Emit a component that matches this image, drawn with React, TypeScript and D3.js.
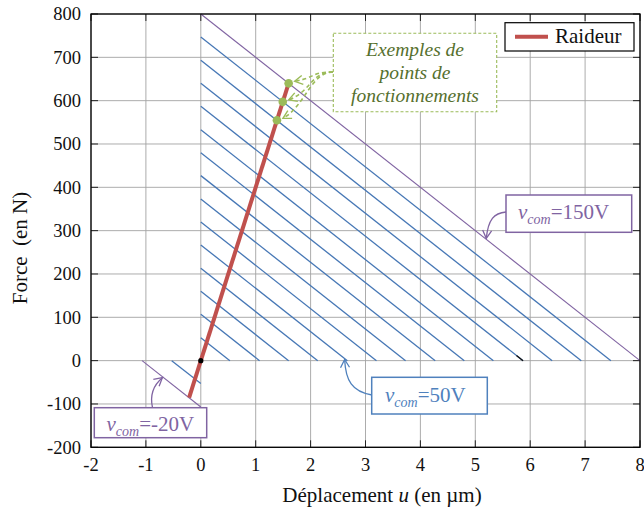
import React from 'react';
import * as d3 from 'd3';

// ---- data ----
const xTicks = [-2, -1, 0, 1, 2, 3, 4, 5, 6, 7, 8];
const yTicks = [-200, -100, 0, 100, 200, 300, 400, 500, 600, 700, 800];
const xTickLabels = ['-2', '-1', '0', '1', '2', '3', '4', '5', '6', '7', '8'];
const yTickLabels = ['-200', '-100', '0', '100', '200', '300', '400', '500', '600', '700', '800'];

// control voltages (V) and the blocked force (N) of each actuator characteristic
const voltages = [-20, -10, 0, 10, 20, 30, 40, 50, 60, 70, 80, 90, 100, 110, 120, 130, 140, 150];
const blockedForces = [-107, -53, 0, 53, 107, 160, 213, 267, 320, 373, 427, 480, 533, 587, 640, 693, 747, 800];
const actuatorStiffness = 100; // N per µm (slope of each characteristic)

// "Raideur" load line
const raideurU = [-0.213, 1.6];
const raideurF = [-85.3, 640];

// operating points (intersections)
const operatingU = [1.387, 1.493, 1.6];
const operatingF = [554.7, 597.3, 640];

const PURPLE = '#8064a2';
const BLUE_BOX = '#4f81bd';
const BLUE_LINE = '#4677b5';
const RED = '#c0504d';
const GREEN = '#9bbb59';
const GREEN_TEXT = '#56702e';
const FONT = "'Liberation Serif', 'Times New Roman', Tinos, 'DejaVu Serif', serif";

export default function App() {
  const W = 644, H = 508;
  const x = d3.scaleLinear().domain([-2, 8]).range([91, 640]);
  const y = d3.scaleLinear().domain([-200, 800]).range([447.3, 14]);
  const line = d3.line<[number, number]>().x(d => x(d[0])).y(d => y(d[1]));
  const [x0, x1] = x.range();
  const [y0, y1] = y.range();

  const characteristics = voltages.map((v, i) => {
    const f0 = blockedForces[i];
    const pts: [number, number][] = [[0, f0], [f0 / actuatorStiffness, 0]];
    return { v, f0, pts };
  });

  const charOf = (v: number) => characteristics.find(c => c.v === v)!;
  const onChar = (v: number, u: number): [number, number] => {
    const c = charOf(v);
    return [x(u), y(c.f0 - actuatorStiffness * u)];
  };

  // tiny black remnant at the end of the 110 V characteristic
  const c110 = charOf(110);
  const stub: [number, number][] = [[(c110.f0 - 12) / actuatorStiffness, 12], [c110.f0 / actuatorStiffness, 0]];

  const tip150 = onChar(150, 5.2);
  const tip50 = onChar(50, 2.62);
  const tipM20 = onChar(-20, -0.7);

  const greenStart: [number, number] = [333, 72];
  const textStyle = { fontFamily: FONT };

  return (
    <svg width={W} height={H} style={{ position: 'absolute', left: 0, top: 0, display: 'block', background: '#fff', fontFamily: FONT }}>
      <defs>
        <marker id="arrP" viewBox="-10 -6 12 12" refX={0} refY={0} markerWidth={12} markerHeight={12}
          markerUnits="userSpaceOnUse" orient="auto">
          <path d="M -8 -4.5 L 0 0 L -8 4.5" fill="none" stroke={PURPLE} strokeWidth={1.3} />
        </marker>
        <marker id="arrB" viewBox="-10 -6 12 12" refX={0} refY={0} markerWidth={12} markerHeight={12}
          markerUnits="userSpaceOnUse" orient="auto">
          <path d="M -8 -4.5 L 0 0 L -8 4.5" fill="none" stroke={BLUE_BOX} strokeWidth={1.3} />
        </marker>
        <marker id="arrG" viewBox="-10 -6 12 12" refX={0} refY={0} markerWidth={12} markerHeight={12}
          markerUnits="userSpaceOnUse" orient="auto">
          <path d="M -8 -4.5 L 0 0 L -8 4.5" fill="none" stroke={GREEN} strokeWidth={1.4} />
        </marker>
      </defs>

      {/* grid */}
      <g stroke="#a3a3a3" strokeWidth={0.9}>
        {xTicks.map(t => <line key={'gx' + t} x1={x(t)} x2={x(t)} y1={y1} y2={y0} />)}
        {yTicks.map(t => <line key={'gy' + t} x1={x0} x2={x1} y1={y(t)} y2={y(t)} />)}
      </g>
      {/* ticks (inside, all four sides) */}
      <g stroke="#222" strokeWidth={1}>
        {xTicks.map(t => (
          <g key={'tx' + t}>
            <line x1={x(t)} x2={x(t)} y1={y0} y2={y0 - 7} />
            <line x1={x(t)} x2={x(t)} y1={y1} y2={y1 + 7} />
          </g>
        ))}
        {yTicks.map(t => (
          <g key={'ty' + t}>
            <line x1={x0} x2={x0 + 7} y1={y(t)} y2={y(t)} />
            <line x1={x1} x2={x1 - 7} y1={y(t)} y2={y(t)} />
          </g>
        ))}
      </g>

      {/* actuator characteristics */}
      {characteristics.filter(c => c.f0 !== 0).map(c => (
        <path key={'c' + c.v} d={line(c.pts)!} fill="none"
          stroke={c.v === -20 || c.v === 150 ? PURPLE : BLUE_LINE}
          strokeWidth={c.v === -20 || c.v === 150 ? 1.1 : 1.3} />
      ))}
      <path d={line(stub)!} fill="none" stroke="#111" strokeWidth={1.3} />

      {/* Raideur */}
      <path d={line(raideurU.map((u, i) => [u, raideurF[i]] as [number, number]))!} fill="none"
        stroke={RED} strokeWidth={4} />
      <circle cx={x(0)} cy={y(0)} r={2.6} fill="#000" />

      {/* operating points */}
      {operatingU.map((u, i) => (
        <circle key={'op' + i} cx={x(u)} cy={y(operatingF[i])} r={4.3} fill={GREEN} />
      ))}

      {/* frame */}
      <rect x={x0} y={y1} width={x1 - x0} height={y0 - y1} fill="none" stroke="#000" strokeWidth={1.3} />

      {/* tick labels */}
      <g fontSize={18.5} fill="#111" style={textStyle}>
        {xTicks.map((t, i) => (
          <text key={'lx' + t} x={x(t)} y={470.5} textAnchor="middle" style={textStyle}>{xTickLabels[i]}</text>
        ))}
        {yTicks.map((t, i) => (
          <text key={'ly' + t} x={81} y={y(t) + 6.3} textAnchor="end" style={textStyle}>{yTickLabels[i]}</text>
        ))}
      </g>

      {/* axis titles */}
      <text x={382} y={501.5} textAnchor="middle" fontSize={21} fill="#111" style={textStyle}>
        Déplacement <tspan fontStyle="italic">u</tspan> (en µm)
      </text>
      <text transform="translate(27,248) rotate(-90)" textAnchor="middle" fontSize={21} fill="#111"
        style={{ ...textStyle, whiteSpace: 'pre' }}>
        {'Force  (en N)'}
      </text>

      {/* legend */}
      <rect x={505} y={22.7} width={129} height={28.3} fill="#fff" stroke="#000" strokeWidth={1.2} />
      <line x1={515} x2={548} y1={36.7} y2={36.7} stroke={RED} strokeWidth={4} />
      <text x={555} y={43} fontSize={21} fill="#111" style={textStyle}>Raideur</text>

      {/* green annotation arrows */}
      {operatingU.map((u, i) => {
        const px = x(u) + 6, py = y(operatingF[i]) - 2;
        const [sx, sy] = greenStart;
        const d = `M ${sx} ${sy} C ${sx - 22} ${sy}, ${px + 22} ${py - 12 + i * 4}, ${px} ${py}`;
        return <path key={'ga' + i} d={d} fill="none" stroke={GREEN} strokeWidth={1.6}
          strokeDasharray="4 3" markerEnd="url(#arrG)" />;
      })}
      <rect x={333.3} y={33.3} width={163.4} height={78.4} fill="#fff" stroke={GREEN} strokeWidth={1.1}
        strokeDasharray="3 2" />
      <g fontSize={19.5} fontStyle="italic" fill={GREEN_TEXT} textAnchor="middle" style={textStyle}>
        <text x={415} y={55.5} style={textStyle}>Exemples de</text>
        <text x={415} y={78.5} style={textStyle}>points de</text>
        <text x={415} y={101.5} style={textStyle}>fonctionnements</text>
      </g>

      {/* 150 V annotation */}
      <path d={`M 506 212 C 494 213, ${tip150[0] + 2} ${tip150[1] - 20}, ${tip150[0]} ${tip150[1] - 1}`}
        fill="none" stroke={PURPLE} strokeWidth={1.3} markerEnd="url(#arrP)" />
      <rect x={506} y={195} width={125.7} height={37.3} fill="#fff" stroke={PURPLE} strokeWidth={1.5} />
      <text x={518} y={219} fontSize={21} fill={PURPLE} style={textStyle}>
        <tspan fontStyle="italic">v</tspan><tspan fontStyle="italic" fontSize={14} dy={5}>com</tspan>
        <tspan dy={-5}>=150V</tspan>
      </text>

      {/* 50 V annotation */}
      <path d={`M 372 395 C 352 392, ${tip50[0] + 1} ${tip50[1] + 22}, ${tip50[0]} ${tip50[1] + 1}`}
        fill="none" stroke={BLUE_BOX} strokeWidth={1.3} markerEnd="url(#arrB)" />
      <rect x={371.7} y={377.3} width={115.6} height={36.7} fill="#fff" stroke={BLUE_BOX} strokeWidth={1.5} />
      <text x={385} y={401.5} fontSize={21} fill={BLUE_BOX} style={textStyle}>
        <tspan fontStyle="italic">v</tspan><tspan fontStyle="italic" fontSize={14} dy={5}>com</tspan>
        <tspan dy={-5}>=50V</tspan>
      </text>

      {/* -20 V annotation */}
      <path d={`M 152.5 407.7 C 149 392, ${tipM20[0] - 6} ${tipM20[1] + 6}, ${tipM20[0]} ${tipM20[1] + 1}`}
        fill="none" stroke={PURPLE} strokeWidth={1.3} markerEnd="url(#arrP)" />
      <rect x={94.3} y={407.7} width={112.4} height={30} fill="#fff" stroke={PURPLE} strokeWidth={1.5} />
      <text x={106.5} y={430.5} fontSize={21} fill={PURPLE} style={textStyle}>
        <tspan fontStyle="italic">v</tspan><tspan fontStyle="italic" fontSize={14} dy={5}>com</tspan>
        <tspan dy={-5}>=-20V</tspan>
      </text>
    </svg>
  );
}
